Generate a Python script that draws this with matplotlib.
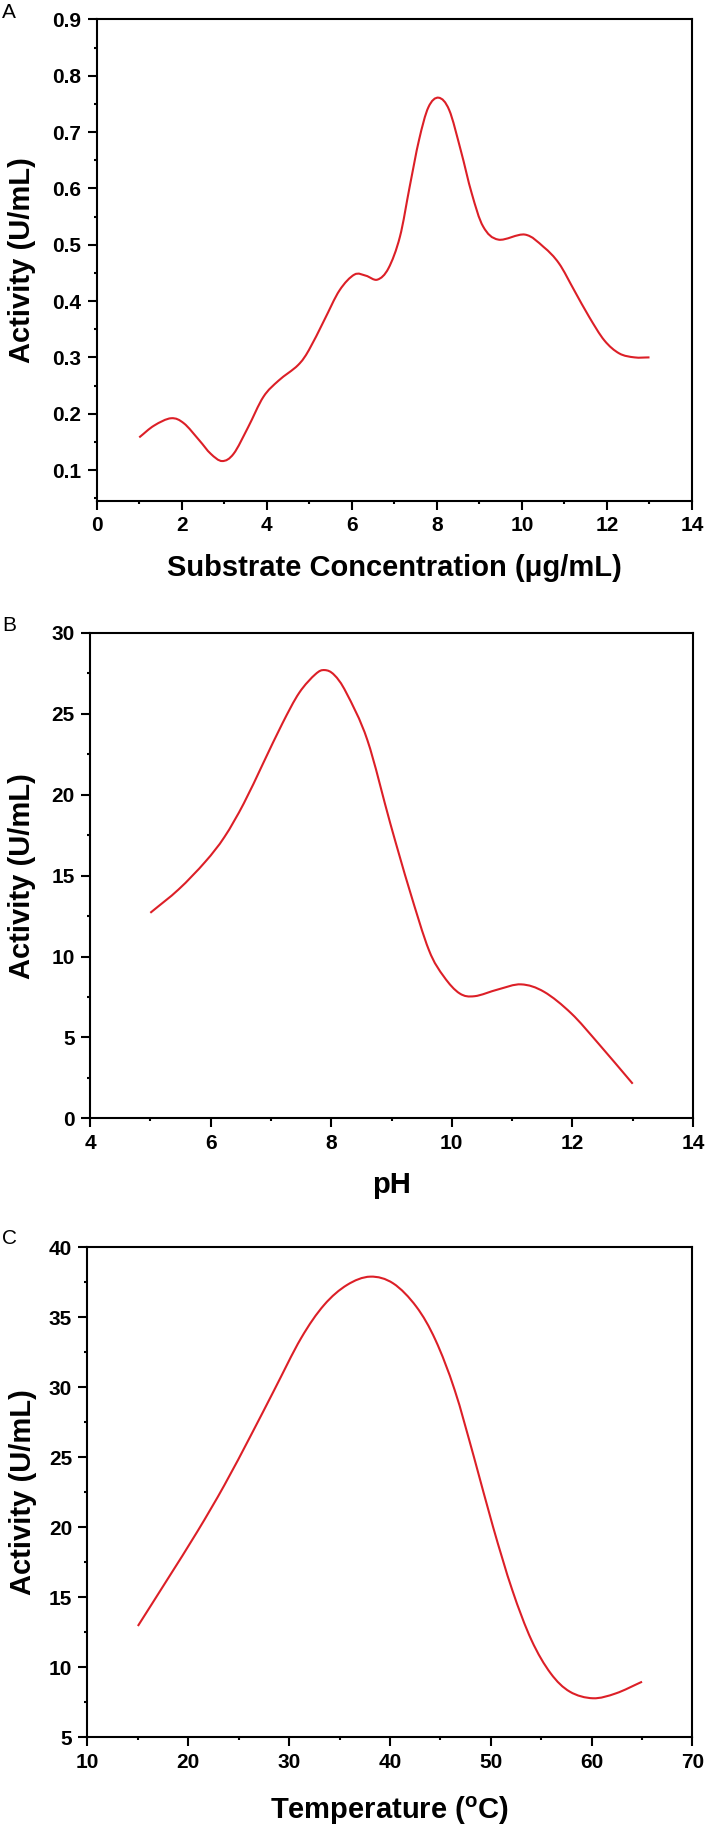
import numpy as np
import matplotlib
matplotlib.use('Agg')
import matplotlib.pyplot as plt
from matplotlib.ticker import MultipleLocator, FormatStrFormatter
from matplotlib.path import Path
from matplotlib.patches import PathPatch

plt.rcParams['font.family'] = ['Liberation Sans', 'DejaVu Sans']

# panel A - substrate concentration (ug/mL) vs activity (U/mL)
conc_x = [1.0, 1.35, 1.75, 2.05, 2.41, 2.68, 2.95, 3.22, 3.56, 3.92, 4.28, 4.73,
          4.99, 5.35, 5.71, 6.06, 6.33, 6.60, 6.86, 7.13, 7.36, 7.58, 7.80, 8.04,
          8.29, 8.56, 8.82, 9.09, 9.45, 10.07, 10.51, 10.87, 11.23, 11.58, 11.94,
          12.29, 12.65, 13.0]
conc_y = [0.158, 0.179, 0.192, 0.183, 0.153, 0.129, 0.116, 0.129, 0.176, 0.230,
          0.259, 0.286, 0.313, 0.366, 0.419, 0.447, 0.445, 0.438, 0.458, 0.514,
          0.603, 0.686, 0.744, 0.761, 0.739, 0.668, 0.591, 0.532, 0.509, 0.518,
          0.496, 0.467, 0.419, 0.372, 0.330, 0.307, 0.300, 0.300]

# panel B - pH vs activity
ph_x = [5.0, 5.47, 5.91, 6.23, 6.55, 6.87, 7.19, 7.47, 7.74, 7.89, 8.05, 8.25,
        8.6, 8.98, 9.30, 9.62, 9.87, 10.13, 10.38, 10.77, 11.15, 11.53, 11.98,
        12.43, 13.0]
ph_y = [12.7, 14.15, 15.85, 17.39, 19.46, 21.93, 24.4, 26.3, 27.45, 27.7, 27.4,
        26.3, 23.37, 18.22, 14.1, 10.4, 8.75, 7.72, 7.55, 7.97, 8.28, 7.82, 6.49,
        4.63, 2.14]

# panel C - temperature vs activity
temp_x = [15.0, 17.86, 20.9, 23.57, 26.23, 28.52, 31.18, 33.47, 35.75, 38.04,
          40.32, 42.61, 44.51, 46.42, 48.32, 50.22, 52.13, 54.03, 55.94, 57.84,
          60.13, 62.41, 65.0]
temp_y = [12.95, 16.2, 19.7, 23.0, 26.6, 29.8, 33.5, 35.88, 37.31, 37.9,
          37.42, 35.76, 33.38, 29.8, 25.04, 20.04, 15.52, 11.95, 9.57, 8.26,
          7.79, 8.14, 8.97]

line_color = '#dc1f27'


def smooth_path(x, y):
	# catmull-rom through the points, drawn as cubic bezier segments
	p = np.column_stack([x, y]).astype(float)
	ext = np.vstack([2*p[0] - p[1], p, 2*p[-1] - p[-2]])
	verts = [p[0]]
	codes = [Path.MOVETO]
	for i in range(1, len(ext) - 2):
		p0, p1, p2, p3 = ext[i-1], ext[i], ext[i+1], ext[i+2]
		verts += [p1 + (p2 - p0)/6, p2 - (p3 - p1)/6, p2]
		codes += [Path.CURVE4]*3
	return Path(verts, codes)


fig = plt.figure(figsize=(7.06, 18.28), dpi=100)

panels = [
	# rect, x, y, xlim, ylim, xmaj, xmin, ymaj, ymin, xlabel, letter, letter_y, xlab_y, ylab_x
	([0.137, 0.7259, 0.8432, 0.2635], conc_x, conc_y, (0, 14), (0.045, 0.9), 2, 1, 0.1, 0.05,
	 'Substrate Concentration (\u03bcg/mL)', 'A', 1 - 12.5/1828, -0.139, -0.125),
	([0.1275, 0.3882, 0.8541, 0.2656], ph_x, ph_y, (4, 14), (0, 30), 2, 1, 5, 2.5,
	 'pH', 'B', 1 - 625.5/1828, -0.137, -0.112),
	([0.1239, 0.0496, 0.8569, 0.2681], temp_x, temp_y, (10, 70), (5, 40), 10, 5, 5, 2.5,
	 'Temperature ($\\mathregular{^o}$C)', 'C', 1 - 1239/1828, -0.150, -0.107),
]

for rect, x, y, xlim, ylim, xmaj, xmin, ymaj, ymin, xlabel, letter, ly, xly, ylx in panels:
	ax = fig.add_axes(rect)
	ax.add_patch(PathPatch(smooth_path(x, y), facecolor='none', edgecolor=line_color,
						   lw=1.5, capstyle='butt'))
	ax.set_xlim(*xlim)
	ax.set_ylim(*ylim)
	ax.xaxis.set_major_locator(MultipleLocator(xmaj))
	ax.xaxis.set_minor_locator(MultipleLocator(xmin))
	ax.yaxis.set_major_locator(MultipleLocator(ymaj))
	ax.yaxis.set_minor_locator(MultipleLocator(ymin))
	if letter == 'A':
		ax.set_yticks(np.arange(0.1, 0.95, 0.1))
		ax.yaxis.set_major_formatter(FormatStrFormatter('%.1f'))
	for s in ax.spines.values():
		s.set_linewidth(1.5)
	ax.tick_params(which='major', direction='out', length=6.5, width=1.5, pad=4.5,
				   labelsize=15, top=False, right=False)
	ax.tick_params(which='minor', direction='out', length=2.5, width=1.5,
				   top=False, right=False)
	for lab in ax.get_xticklabels() + ax.get_yticklabels():
		lab.set_fontweight('bold')
	ax.set_xlabel(xlabel, fontsize=21, fontweight='bold')
	ax.xaxis.set_label_coords(0.5, xly)
	ax.xaxis.label.set_va('center')
	ax.set_ylabel('Activity (U/mL)', fontsize=21, fontweight='bold')
	ax.yaxis.set_label_coords(ylx, 0.5)
	ax.yaxis.label.set_va('center')
	ax.yaxis.label.set_ha('center')
	fig.text(0.0025, ly, letter, fontsize=15, ha='left', va='center')

fig.savefig('out.png', dpi=100)
